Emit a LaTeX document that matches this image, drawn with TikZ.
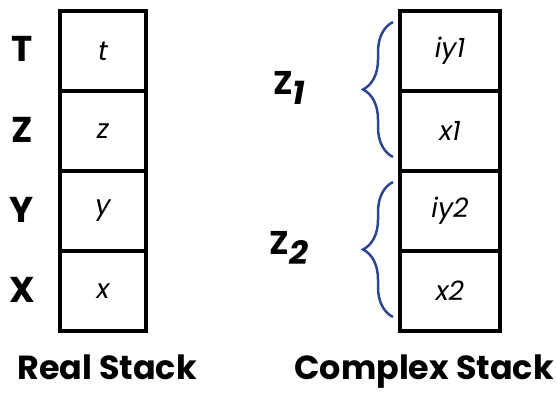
\documentclass[tikz,border=0pt]{standalone}
\usepackage{fontspec}
\setmainfont{Poppins}
\usetikzlibrary{positioning,calc,decorations.pathreplacing}
\definecolor{BraceBlue}{HTML}{2B4590}

\begin{document}
\begin{tikzpicture}[
  x=1bp,y=-1bp,
  cell/.style={draw,line width=4bp,inner sep=0pt,outer sep=0pt,
    minimum height=80bp,font=\fontsize{27}{27}\selectfont\itshape},
  rcell/.style={cell,minimum width=86bp},
  ccell/.style={cell,minimum width=100bp},
  reg/.style={font=\fontsize{36}{36}\selectfont\bfseries},
  caption/.style={anchor=base,font=\fontsize{33.5}{33.5}\selectfont\bfseries},
  br/.style={decorate,decoration={brace,amplitude=30bp},
    draw=BraceBlue,line width=2.5bp}
]
  \useasboundingbox (0,0) rectangle (557,395);
  % real stack
  \node[rcell] (t) at (103,51) {t};
  \node[rcell,below=0pt of t] (z) {z};
  \node[rcell,below=0pt of z] (y) {y};
  \node[rcell,below=0pt of y] (x) {x};
  \node[reg] (lT) at (22,49) {T};
  \node[reg] (lZ) at (22,130) {Z};
  \node[reg] (lY) at (22,210) {Y};
  \node[reg] (lX) at (22,290) {X};
  % complex stack
  \node[ccell] (iy1) at (450,51) {iy1};
  \node[ccell,below=0pt of iy1] (x1) {x1};
  \node[ccell,below=0pt of x1] (iy2) {iy2};
  \node[ccell,below=0pt of iy2] (x2) {x2};
  \draw[br] ($(x1.south west)+(-7,-14)$) -- ($(iy1.north west)+(-7,11)$);
  \draw[br] ($(x2.south west)+(-7,-14)$) -- ($(iy2.north west)+(-7,11)$);
  \node[reg,font=\fontsize{33}{33}\selectfont\bfseries] (z1) at (289,88)
    {Z\raisebox{-0.3em}{\itshape 1}};
  \node[reg,font=\fontsize{33}{33}\selectfont\bfseries] (z2) at (289,248)
    {Z\raisebox{-0.3em}{\itshape 2}};
  % captions
  \node[caption] (real) at (107,379) {Real Stack};
  \node[caption] (cplx) at (424,379) {Complex Stack};
\end{tikzpicture}
\end{document}
